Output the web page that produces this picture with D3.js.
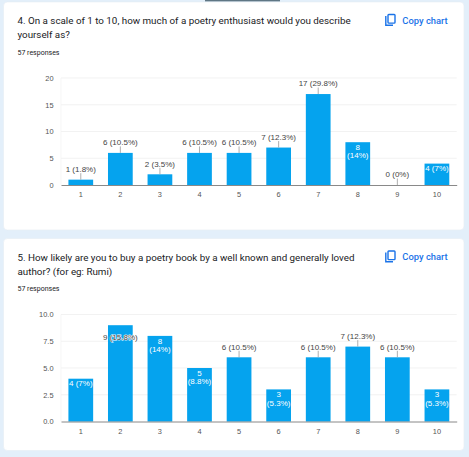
<!DOCTYPE html>
<html>
<head>
<meta charset="utf-8">
<script src="https://cdn.jsdelivr.net/npm/d3@7"></script>
<style>
  body { margin: 0; background: #e3effa; }
  svg { display: block; }
</style>
</head>
<body>
<div id="chart"></div>
<script>
// ---- data ----
var categories = ["1", "2", "3", "4", "5", "6", "7", "8", "9", "10"];
var responses = 57;

var q4Title = ["4. On a scale of 1 to 10, how much of a poetry enthusiast would you describe", "yourself as?"];
var q4Values = [1, 6, 2, 6, 6, 7, 17, 8, 0, 4];
var q4Ticks = [0, 5, 10, 15, 20];

var q5Title = ["5. How likely are you to buy a poetry book by a well known and generally loved", "author? (for eg: Rumi)"];
var q5Values = [4, 9, 8, 5, 6, 3, 6, 7, 6, 3];
var q5Ticks = [0, 2.5, 5, 7.5, 10];

// where google put each value label: out = above with leader, in = inside one line,
// in2 = inside two lines, halo = dark text with white outline
var q4LabelMode = ["out", "out", "out", "out", "out", "out", "out", "in2", "out", "in"];
var q5LabelMode = ["in", "halo", "in2", "in2", "out", "in2", "out", "out", "out", "in2"];

var W = 469, H = 457;
var barColor = "#05a3ee";

var svg = d3.select("#chart").append("svg")
    .attr("width", W)
    .attr("height", H);

svg.append("rect").attr("width", W).attr("height", H).attr("fill", "#e3effa");
// little tab bar at the very top
svg.append("rect").attr("x", 205).attr("y", 0).attr("width", 75).attr("height", 1.5).attr("fill", "#5f7684");

function pct(v) {
    return d3.format(".1~f")(v / responses * 100) + "%";
}

function drawCard(top, bottom, title, values, ticks, tickFmt, modes) {
    var g = svg.append("g").attr("transform", "translate(0 " + top + ")");

    g.append("rect")
        .attr("x", 3.5).attr("y", 0)
        .attr("width", 460.5).attr("height", bottom - top)
        .attr("rx", 4)
        .attr("fill", "#fff")
        .attr("stroke", "#e6edf3")
        .attr("stroke-width", 0.6);

    // title
    g.selectAll(".title").data(title).enter()
        .append("text")
        .attr("x", 17.5)
        .attr("y", function(d, i) { return 22 + i * 14.2; })
        .attr("font-family", "Roboto")
        .attr("font-size", "9.8px")
        .attr("fill", "#202124")
        .text(function(d) { return d; });

    g.append("text")
        .attr("x", 17.5).attr("y", 52.5)
        .attr("font-family", "Roboto")
        .attr("font-size", "7px")
        .attr("fill", "#202124")
        .text(responses + " responses");

    // copy chart button
    var ic = g.append("g").attr("transform", "translate(385 12)")
        .attr("fill", "none").attr("stroke", "#1a73e8").attr("stroke-width", 1.4);
    ic.append("path").attr("d", "M0.8 2 V11.2 H8");
    ic.append("rect").attr("x", 3).attr("y", 0.5).attr("width", 7).attr("height", 8.6).attr("rx", 0.8);
    g.append("text")
        .attr("x", 402.3).attr("y", 21.5)
        .attr("font-family", "Roboto")
        .attr("font-weight", 500)
        .attr("font-size", "9.4px")
        .attr("fill", "#1a73e8")
        .text("Copy chart");

    // plot area
    var x0 = 61, x1 = 456.7, y0 = 183, y1 = 76;
    var x = d3.scaleBand()
        .domain(categories)
        .range([x0, x1])
        .paddingInner(0.375)
        .paddingOuter(0.1875);
    var y = d3.scaleLinear()
        .domain([ticks[0], ticks[ticks.length - 1]])
        .range([y0, y1]);

    // gridlines
    g.selectAll(".grid").data(ticks.slice(1)).enter()
        .append("line")
        .attr("x1", x0).attr("x2", x1)
        .attr("y1", function(d) { return y(d); })
        .attr("y2", function(d) { return y(d); })
        .attr("stroke", "#ececec").attr("stroke-width", 0.7);
    g.append("line")
        .attr("x1", x0).attr("x2", x0).attr("y1", y1).attr("y2", y0)
        .attr("stroke", "#f2f2f2").attr("stroke-width", 0.7);

    // y axis
    var yAxis = g.append("g")
        .attr("transform", "translate(" + x0 + " 0)")
        .call(d3.axisLeft(y).tickValues(ticks).tickFormat(tickFmt).tickSize(0).tickPadding(7.5));
    yAxis.select(".domain").remove();
    yAxis.selectAll("text")
        .attr("font-family", "Liberation Sans")
        .attr("font-size", "7.4px")
        .attr("fill", "#555");

    // bars
    g.selectAll(".bar").data(values).enter()
        .append("rect")
        .attr("x", function(d, i) { return x(categories[i]); })
        .attr("y", function(d) { return y(d); })
        .attr("width", x.bandwidth())
        .attr("height", function(d) { return y0 - y(d); })
        .attr("fill", barColor);

    // x axis
    var xAxis = g.append("g")
        .attr("transform", "translate(0 " + y0 + ")")
        .call(d3.axisBottom(x).tickSize(0).tickPadding(7));
    xAxis.select(".domain").attr("stroke", "#6b6b6b").attr("stroke-width", 0.8);
    xAxis.selectAll("text")
        .attr("font-family", "Liberation Sans")
        .attr("font-size", "7.4px")
        .attr("fill", "#555");

    // value labels
    values.forEach(function(v, i) {
        var cx = x(categories[i]) + x.bandwidth() / 2;
        var top = y(v);
        var mode = modes[i];
        var lab = g.append("text")
            .attr("x", cx)
            .attr("text-anchor", "middle")
            .attr("dy", "0.35em")
            .attr("font-family", "Liberation Sans")
            .attr("font-size", "8px");
        if (mode == "out") {
            g.append("line")
                .attr("x1", cx).attr("x2", cx)
                .attr("y1", top - 6.5).attr("y2", top)
                .attr("stroke", "#9a9a9a").attr("stroke-width", 0.8);
            lab.attr("y", top - 10.5).attr("fill", "#444").text(v + " (" + pct(v) + ")");
        } else if (mode == "in") {
            lab.attr("y", top + 4.8).attr("fill", "#fff").text(v + " (" + pct(v) + ")");
        } else if (mode == "in2") {
            lab.attr("y", top + 5).attr("fill", "#fff").text(v);
            g.append("text")
                .attr("x", cx).attr("y", top + 13.3)
                .attr("text-anchor", "middle")
                .attr("dy", "0.35em")
                .attr("font-family", "Liberation Sans")
                .attr("font-size", "8px")
                .attr("fill", "#fff")
                .text("(" + pct(v) + ")");
        } else {
            lab.attr("y", top + 12)
                .attr("fill", "#444")
                .attr("stroke", "#fff").attr("stroke-width", 1.1)
                .attr("paint-order", "stroke")
                .text(v + " (" + pct(v) + ")");
        }
    });
}

drawCard(2, 230, q4Title, q4Values, q4Ticks, d3.format("d"), q4LabelMode);
drawCard(238.5, 450.5, q5Title, q5Values, q5Ticks, d3.format(".1f"), q5LabelMode);
</script>
</body>
</html>
